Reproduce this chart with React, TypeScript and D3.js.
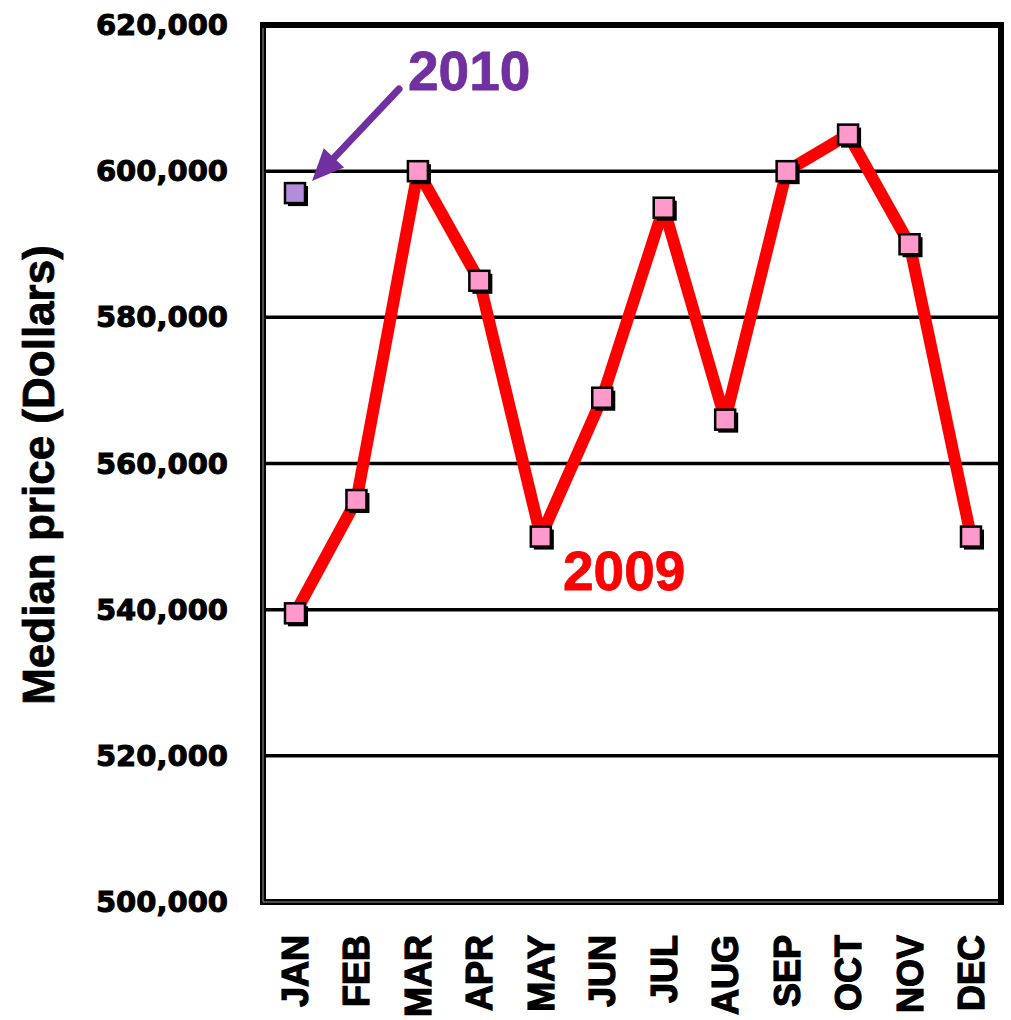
import React from "react";
import * as d3 from "d3";

// Monthly median sale price, 2009, plus January 2010
const months = ["JAN", "FEB", "MAR", "APR", "MAY", "JUN", "JUL", "AUG", "SEP", "OCT", "NOV", "DEC"];
const prices2009 = [539500, 555000, 600000, 585000, 550000, 569000, 595000, 566000, 600000, 605000, 590000, 550000];
const price2010Month = "JAN";
const price2010 = [597000];
const yTicks = [500000, 520000, 540000, 560000, 580000, 600000, 620000];
const gridValues = [520000, 540000, 560000, 580000, 600000];

const W = 1011;
const H = 1020;
const plot = { left: 263, right: 1001, top: 25, bottom: 902 };

export default function App() {
  const x = d3.scalePoint<string>().domain(months).range([295, 971]);
  const y = d3.scaleLinear().domain([500000, 620000]).range([plot.bottom, plot.top]);
  const fmt = d3.format(",");

  const line = d3
    .line<number>()
    .x((_, i) => x(months[i]) as number)
    .y((d) => y(d));

  const ms = 20;
  const marker = (cx: number, cy: number, fill: string, key: string) => (
    <g key={key}>
      <rect x={cx - ms / 2 + 3} y={cy - ms / 2 + 3} width={ms} height={ms} fill="#000" />
      <rect x={cx - ms / 2} y={cy - ms / 2} width={ms} height={ms} fill={fill} stroke="#000" strokeWidth={2.5} />
    </g>
  );

  const x2010 = x(price2010Month) as number;
  const y2010 = y(price2010[0]);

  // arrow from the 2010 label down to its marker
  const a0 = [399, 89];
  const a1 = [x2010 + 17, y2010 - 12];
  const ang = Math.atan2(a1[1] - a0[1], a1[0] - a0[0]);
  const headLen = 32;
  const headW = 14;
  const bx = a1[0] - headLen * Math.cos(ang);
  const by = a1[1] - headLen * Math.sin(ang);
  const px = -Math.sin(ang);
  const py = Math.cos(ang);
  const head = `M${a1[0]},${a1[1]}L${bx + px * headW},${by + py * headW}L${bx - px * headW},${by - py * headW}Z`;

  return (
    <svg
      width={W}
      height={H}
      style={{ position: "absolute", left: 0, top: 0, background: "#fff" }}
    >
      <rect x={0} y={0} width={W} height={H} fill="#fff" />

      {/* horizontal gridlines */}
      {gridValues.map((v) => (
        <line key={v} x1={plot.left} x2={plot.right} y1={y(v)} y2={y(v)} stroke="#000" strokeWidth={3.5} />
      ))}

      {/* plot frame */}
      <rect
        x={plot.left}
        y={plot.top}
        width={plot.right - plot.left}
        height={plot.bottom - plot.top}
        fill="none"
        stroke="#000"
        strokeWidth={6}
      />
      <path
        d={`M${plot.left},${plot.top + 3}V${plot.bottom}H${plot.right - 3}`}
        fill="none"
        stroke="#9a9a9a"
        strokeWidth={1}
      />

      {/* y tick labels */}
      {yTicks.map((v) => (
        <text
          key={v}
          x={228}
          y={y(v) + 10}
          textAnchor="end"
          fontFamily="DejaVu Sans"
          fontWeight="bold"
          fontSize={29}
          fill="#000"
          stroke="#000"
          strokeWidth={1}
        >
          {fmt(v)}
        </text>
      ))}

      {/* y axis title */}
      <text
        transform={`translate(54,${(245 + 705) / 2}) rotate(-90)`}
        textAnchor="middle"
        fontFamily="Liberation Sans"
        fontWeight="bold"
        fontSize={44}
        fill="#000"
        stroke="#000"
        strokeWidth={0.8}
      >
        Median price (Dollars)
      </text>

      {/* month labels */}
      {months.map((m) => (
        <text
          key={m}
          transform={`translate(${(x(m) as number) + 13},935) rotate(-90)`}
          textAnchor="end"
          fontFamily="Liberation Sans"
          fontWeight="bold"
          fontSize={36}
          fill="#000"
          stroke="#000"
          strokeWidth={1.2}
        >
          {m}
        </text>
      ))}

      {/* 2009 series */}
      <path
        d={line(prices2009) as string}
        fill="none"
        stroke="#ff0000"
        strokeWidth={12}
        strokeLinejoin="round"
      />
      {prices2009.map((v, i) => marker(x(months[i]) as number, y(v), "#ff99cc", `p${i}`))}

      {/* 2010 point */}
      {marker(x2010, y2010, "#b48cdc", "p2010")}

      {/* annotations */}
      <line x1={a0[0]} y1={a0[1]} x2={bx} y2={by} stroke="#7030a0" strokeWidth={7} strokeLinecap="round" />
      <path d={head} fill="#7030a0" />
      <text x={408} y={90} fontFamily="Liberation Sans" fontWeight="bold" fontSize={55} fill="#7030a0" stroke="#7030a0" strokeWidth={0.8}>
        2010
      </text>
      <text x={563} y={590} fontFamily="Liberation Sans" fontWeight="bold" fontSize={55} fill="#ff0000" stroke="#ff0000" strokeWidth={0.8}>
        2009
      </text>
    </svg>
  );
}
